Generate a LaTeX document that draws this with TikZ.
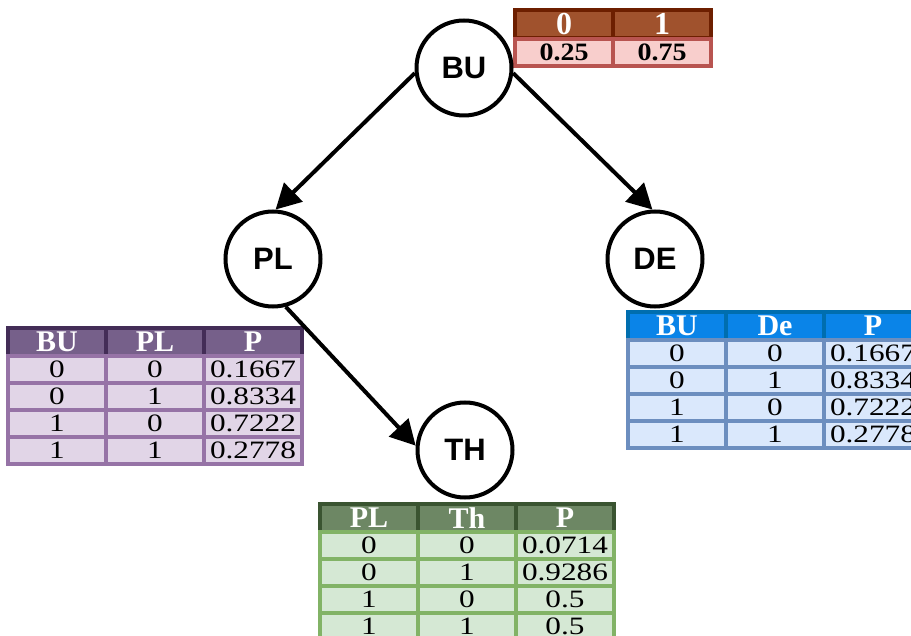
\documentclass[tikz,border=0pt]{standalone}
\usepackage{fontspec}
\setmainfont{Liberation Serif}
\newfontfamily\lsans{Liberation Sans}
\usepackage{graphicx}
\usetikzlibrary{arrows.meta}
\newcommand{\sx}[1]{\scalebox{1.25}[1]{#1}}
\newcommand{\sxt}[1]{\scalebox{1.12}[1]{#1}}
\definecolor{brH}{HTML}{A0522D}\definecolor{brHs}{HTML}{6D1F00}
\definecolor{brB}{HTML}{F8CECC}\definecolor{brBs}{HTML}{B85450}
\definecolor{puH}{HTML}{76608A}\definecolor{puHs}{HTML}{432D57}
\definecolor{puB}{HTML}{E1D5E7}\definecolor{puBs}{HTML}{9673A6}
\definecolor{blH}{HTML}{0A84E8}\definecolor{blHs}{HTML}{006EAF}
\definecolor{blB}{HTML}{DAE8FC}\definecolor{blBs}{HTML}{6C8EBF}
\definecolor{grH}{HTML}{6D8764}\definecolor{grHs}{HTML}{3A5431}
\definecolor{grB}{HTML}{D5E8D4}\definecolor{grBs}{HTML}{82B366}
\begin{document}
\begin{tikzpicture}[x=1pt,y=-1pt,
  vnode/.style={circle,draw=black,line width=4pt,fill=white,minimum size=95pt,inner sep=0pt,font=\lsans\bfseries\fontsize{31}{31}\selectfont},
  cellbase/.style={rectangle,line width=4.5pt,minimum width=98pt,minimum height=27pt,inner sep=0pt},
  hcell/.style={cellbase,minimum height=28pt,text=white,font=\bfseries\fontsize{30}{30}\selectfont},
  bcell/.style={cellbase,text=black,font=\fontsize{25}{25}\selectfont},
  edge/.style={line width=4pt,-{Triangle[length=25pt,width=26pt]}}
]
\useasboundingbox (0,0) rectangle (911,636);
\clip (0,0) rectangle (911,636);
\fill[white] (0,0) rectangle (911,636);

% top table (BU)
\node[hcell,draw=brHs,fill=brH,font=\bfseries\fontsize{32}{32}\selectfont] (bu-h1) at (564,24) {0};
\node[hcell,draw=brHs,fill=brH,font=\bfseries\fontsize{32}{32}\selectfont] (bu-h2) at (662,24) {1};
\node[bcell,draw=brBs,fill=brB,font=\bfseries\fontsize{25}{25}\selectfont] (bu-b1) at (564,52.5) {\sxt{0.25}};
\node[bcell,draw=brBs,fill=brB,font=\bfseries\fontsize{25}{25}\selectfont] (bu-b2) at (662,52.5) {\sxt{0.75}};

% left table (PL)
\foreach \t [count=\i] in {BU,PL,P}
  \node[hcell,draw=puHs,fill=puH] (pl-h\i) at ({57+98*(\i-1)},342) {\t};
\foreach \a/\b/\p [count=\r] in {0/0/0.1667,0/1/0.8334,1/0/0.7222,1/1/0.2778}{
  \node[bcell,draw=puBs,fill=puB] (pl-\r-1) at (57,{369.5+27*(\r-1)}) {\sx{\a}};
  \node[bcell,draw=puBs,fill=puB] (pl-\r-2) at (155,{369.5+27*(\r-1)}) {\sx{\b}};
  \node[bcell,draw=puBs,fill=puB] (pl-\r-3) at (253,{369.5+27*(\r-1)}) {\sx{\p}};
}

% right table (DE)
\foreach \t [count=\i] in {BU,De,P}
  \node[hcell,draw=blHs,fill=blH] (de-h\i) at ({677+98*(\i-1)},326) {\t};
\foreach \a/\b/\p [count=\r] in {0/0/0.1667,0/1/0.8334,1/0/0.7222,1/1/0.2778}{
  \node[bcell,draw=blBs,fill=blB] (de-\r-1) at (677,{353.5+27*(\r-1)}) {\sx{\a}};
  \node[bcell,draw=blBs,fill=blB] (de-\r-2) at (775,{353.5+27*(\r-1)}) {\sx{\b}};
  \node[bcell,draw=blBs,fill=blB] (de-\r-3) at (873,{353.5+27*(\r-1)}) {\sx{\p}};
}

% bottom table (TH)
\foreach \t [count=\i] in {PL,Th,P}
  \node[hcell,draw=grHs,fill=grH] (th-h\i) at ({369+98*(\i-1)},518) {\t};
\foreach \a/\b/\p [count=\r] in {0/0/0.0714,0/1/0.9286,1/0/0.5,1/1/0.5}{
  \node[bcell,draw=grBs,fill=grB] (th-\r-1) at (369,{545.5+27*(\r-1)}) {\sx{\a}};
  \node[bcell,draw=grBs,fill=grB] (th-\r-2) at (467,{545.5+27*(\r-1)}) {\sx{\b}};
  \node[bcell,draw=grBs,fill=grB] (th-\r-3) at (565,{545.5+27*(\r-1)}) {\sx{\p}};
}

% variable nodes
\node[vnode] (BU) at (464,68) {BU};
\node[vnode] (PL) at (273,259) {PL};
\node[vnode] (DE) at (655,259) {DE};
\node[vnode] (TH) at (465,450) {TH};

\draw[edge] (BU.186) -- (PL.87);
\draw[edge] (BU.354) -- (DE.93);
\draw[edge] (PL.285) -- (TH.175);
\end{tikzpicture}
\end{document}
